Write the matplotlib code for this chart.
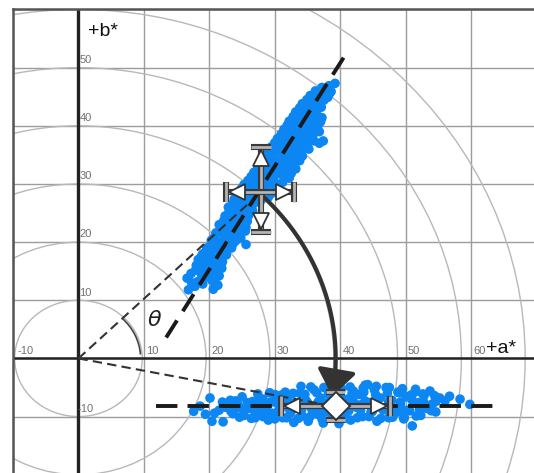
import numpy as np
import matplotlib.pyplot as plt
from matplotlib.patches import Ellipse, Arc, FancyArrowPatch
from matplotlib.path import Path

# scatter points (a*, b*)
diag_a = [16.8, 17.8, 20.6, 21.3,
          16.6, 18.2, 19.5, 21.5, 20.4,
          17.9, 19.2, 20.5, 21.8, 18.6,
          18.3, 19.6, 20.9, 22.0, 19.0,
          19.8, 21.0, 22.3, 20.4, 23.4,
          20.3, 21.6, 22.8, 24.0, 25.6,
          21.0, 22.2, 23.4, 24.6, 25.5,
          21.5, 22.8, 24.0, 25.2, 23.4,
          22.4, 23.6, 24.8, 26.0, 25.2,
          22.9, 24.2, 25.4, 26.5, 23.8,
          24.2, 25.5, 26.8, 27.9, 29.0,
          24.9, 26.2, 27.3, 28.7, 30.0,
          25.9, 27.2, 28.5, 29.8, 31.2, 32.2,
          26.8, 28.1, 29.4, 30.6, 31.8,
          27.6, 28.9, 30.2, 31.5, 32.8, 33.8,
          28.6, 29.9, 31.2, 32.5, 33.6,
          29.5, 30.8, 32.0, 33.4, 34.6, 36.8,
          30.4, 31.7, 33.0, 34.2, 35.4, 37.4,
          31.4, 32.7, 34.0, 35.3, 36.4,
          32.2, 33.5, 34.8, 36.0, 37.0,
          33.2, 34.4, 35.6, 36.6,
          34.2, 35.4, 36.6, 37.5,
          35.4, 36.6, 37.7, 38.6,
          37.2, 38.3, 39.2]
diag_b = [11.8, 12.4, 11.9, 12.6,
          13.8, 13.2, 14.0, 14.2, 13.4,
          15.2, 15.6, 15.1, 15.8, 16.4,
          17.0, 16.8, 17.2, 16.6, 18.0,
          18.4, 18.9, 18.2, 19.6, 19.0,
          20.3, 20.0, 20.6, 20.2, 19.6,
          21.6, 21.3, 21.8, 21.2, 21.9,
          23.0, 22.7, 23.2, 22.8, 24.0,
          24.5, 24.8, 24.3, 24.6, 25.6,
          26.0, 26.3, 26.8, 26.1, 27.4,
          28.0, 27.6, 27.8, 27.2, 27.7,
          29.2, 29.4, 29.0, 29.6, 28.9,
          30.6, 30.8, 30.4, 30.9, 30.3, 31.0,
          32.0, 32.3, 31.8, 32.4, 31.9,
          33.4, 33.8, 33.2, 33.7, 33.3, 34.0,
          35.0, 35.3, 34.8, 35.4, 35.0,
          36.4, 36.8, 36.2, 36.7, 36.3, 37.0,
          37.8, 38.2, 37.6, 38.3, 37.9, 37.4,
          39.4, 39.7, 39.2, 39.8, 39.3,
          40.8, 41.2, 40.6, 41.3, 40.7,
          42.4, 42.7, 42.2, 42.9,
          43.8, 44.1, 43.6, 44.4,
          45.2, 45.6, 45.0, 45.9,
          46.6, 46.9, 47.3]

# second pass of points between the rows above
diag2_a = [17.3, 19.0, 20.9,
           17.2, 18.8, 20.2, 21.2,
           18.0, 19.4, 20.8, 21.9,
           18.8, 20.1, 21.5, 22.6,
           20.9, 22.1, 23.6, 19.6,
           20.8, 22.3, 23.6, 24.8,
           21.8, 23.0, 24.3, 25.6,
           22.2, 23.4, 24.6, 25.8,
           23.0, 24.2, 25.5, 26.6,
           23.6, 24.8, 26.0, 27.2,
           24.6, 25.8, 27.0, 28.2, 29.4,
           25.3, 26.6, 27.9, 29.2, 30.5,
           26.4, 27.6, 28.8, 30.0, 31.3, 32.5,
           27.4, 28.5, 29.8, 31.0, 32.2, 33.2,
           28.2, 29.4, 30.7, 32.0, 33.2, 34.2,
           29.0, 30.3, 31.6, 32.9, 34.1, 35.2,
           30.0, 31.2, 32.5, 33.8, 35.0, 36.0,
           31.0, 32.2, 33.5, 34.8, 35.9, 36.8,
           31.9, 33.1, 34.4, 35.6, 36.6,
           32.8, 34.0, 35.2, 36.3, 37.2,
           33.8, 35.0, 36.1, 37.1,
           34.9, 36.0, 37.1, 38.1,
           36.2, 37.4, 38.4]
diag2_b = [13.0, 12.8, 13.0,
           14.6, 14.4, 14.7, 15.0,
           16.0, 15.9, 16.2, 15.5,
           17.6, 17.9, 17.6, 17.8,
           19.3, 19.5, 19.7, 19.0,
           20.9, 20.8, 20.9, 20.7,
           22.3, 22.2, 22.4, 22.5,
           23.7, 23.5, 23.8, 23.6,
           25.2, 25.4, 25.2, 25.4,
           26.6, 27.0, 26.8, 26.9,
           28.4, 28.5, 28.3, 28.4, 28.3,
           29.9, 30.0, 29.8, 30.1, 29.9,
           31.3, 31.4, 31.2, 31.5, 31.4, 31.8,
           32.8, 33.0, 32.6, 32.9, 32.7, 32.6,
           34.2, 34.4, 34.0, 34.3, 34.4, 34.8,
           35.7, 35.9, 35.6, 36.0, 35.6, 36.0,
           37.1, 37.4, 37.0, 37.3, 37.1, 37.4,
           38.6, 38.9, 38.5, 38.9, 38.6, 39.0,
           40.1, 40.3, 40.0, 40.4, 40.1,
           41.6, 41.9, 41.5, 41.8, 41.4,
           43.1, 43.3, 43.0, 43.2,
           44.5, 44.8, 44.4, 44.9,
           46.0, 46.2, 45.6]

flat_a = [17.6, 18.6, 20.1, 20.4, 22.1, 20.8, 19.4,
          22.5, 23.2, 23.6, 24.4, 25.0, 25.3, 26.0, 26.6, 27.0, 27.5,
          28.2, 28.6, 29.0, 29.5, 30.0, 30.2,
          30.8, 31.2, 31.6, 32.0, 32.4, 32.9, 33.3, 33.8, 34.2, 34.7,
          35.1, 35.6, 36.0, 36.5, 37.0, 37.4, 37.8, 38.3, 38.7, 39.2,
          39.8, 40.2, 40.7, 41.1, 41.6, 42.0, 42.5, 42.9, 43.4, 43.8,
          44.3, 44.7, 45.2, 45.6, 46.1, 46.5, 47.0, 47.4, 47.9, 48.3,
          48.8, 49.2, 49.7, 50.1, 50.6, 51.0, 51.4, 51.9, 52.3, 52.8,
          53.2, 53.7, 54.1, 54.6, 55.2, 56.7, 58.3, 59.8,
          31.0, 33.0, 35.0, 37.0, 39.0, 41.0, 43.0, 45.0, 47.0, 49.0,
          34.0, 44.2, 24.0, 26.5, 28.0]
flat_b = [-9.1, -8.2, -6.8, -10.8, -10.9, -9.4, -9.6,
          -8.4, -7.2, -9.5, -8.0, -6.6, -9.8, -8.6, -7.4, -10.2, -9.0,
          -7.0, -8.2, -10.6, -9.4, -6.2, -7.6,
          -8.8, -10.2, -5.8, -7.0, -9.4, -11.0, -8.0, -6.0, -9.9, -7.2,
          -10.8, -8.6, -5.4, -9.6, -6.8, -11.1, -8.0, -5.0, -10.2, -6.4,
          -11.2, -5.2, -9.6, -7.0, -10.6, -5.6, -8.4, -6.2, -10.0, -4.6,
          -7.6, -9.2, -5.4, -10.8, -6.8, -8.8, -5.0, -10.2, -7.2, -9.4,
          -5.8, -8.0, -10.4, -6.6, -9.0, -11.6, -5.8, -7.6, -9.8, -6.4,
          -8.6, -5.6, -7.8, -9.2, -6.8, -6.5, -7.0, -7.9,
          -7.8, -8.6, -7.6, -9.0, -8.4, -8.6, -8.0, -8.2, -8.6, -9.2,
          -4.8, -4.5, -8.6, -8.4, -8.8]

flat2_a = [27.4, 29.2, 31.0, 32.8, 34.6, 36.4, 38.2, 40.0, 41.8, 43.6,
           45.4, 47.2, 49.0, 50.8, 52.6, 54.4,
           22.0, 24.0, 25.8, 27.6, 29.4, 31.2, 33.0, 34.8, 36.6, 38.4,
           40.2, 42.0, 43.8, 45.6, 47.4, 49.2, 51.0, 52.8, 54.6, 56.0,
           21.5, 23.3, 25.1, 26.9, 28.7, 30.5, 32.3, 34.1, 35.9, 37.7,
           39.5, 41.3, 43.1, 44.9, 46.7, 48.5, 50.3, 52.1, 53.9,
           24.6, 26.4, 28.2, 30.0, 31.8, 33.6, 35.4, 37.2, 39.0, 40.8,
           42.6, 44.4, 46.2, 48.0, 49.8, 51.6,
           35.5, 37.5, 39.5, 41.5, 43.5, 45.5, 47.5, 49.5, 51.5]
flat2_b = [-6.1, -5.9, -6.3, -6.0, -6.2, -5.9, -6.1, -6.3, -6.0, -5.8,
           -6.2, -6.0, -5.9, -6.3, -6.1, -6.4,
           -7.5, -7.3, -7.6, -7.2, -7.5, -7.4, -7.7, -7.3, -7.5, -7.2,
           -7.6, -7.4, -7.3, -7.6, -7.4, -7.5, -7.2, -7.6, -7.4, -7.3,
           -8.9, -9.1, -8.8, -9.0, -8.7, -9.1, -8.9, -8.8, -9.0, -9.2,
           -8.8, -9.0, -8.9, -9.1, -8.8, -9.0, -8.9, -8.7, -9.0,
           -10.1, -10.3, -10.0, -10.4, -10.2, -10.3, -10.0, -10.4, -10.1, -10.3,
           -10.2, -10.0, -10.3, -10.1, -10.2, -9.9,
           -4.9, -5.0, -4.7, -4.9, -5.1, -4.8, -5.0, -5.2, -5.3]

centre1 = (27.9, 28.6)
centre2 = (39.3, -8.2)
a_ticks = [-10, 10, 20, 30, 40, 50, 60]
b_ticks = [50, 40, 30, 20, 10, -10, -20]
radii = [10, 20, 30, 40, 50, 60, 70]

fig = plt.figure(figsize=(5.34, 4.73), dpi=100)
ax = fig.add_axes([13 / 534, 0, 521 / 534, 463.5 / 473])
ax.set_xlim(-10, 69.6)
ax.set_ylim(-19.7, 60)

ax.set_xticks(range(-10, 70, 10))
ax.set_yticks(range(-10, 61, 10))
ax.grid(True, color='#9c9c9c', lw=1.0, zorder=0)
ax.tick_params(length=0, labelbottom=False, labelleft=False)
ax.set_axisbelow(True)
for s in ['right', 'bottom']:
    ax.spines[s].set_visible(False)
for s in ['left', 'top']:
    ax.spines[s].set_color('#555555')
    ax.spines[s].set_linewidth(1.8)

# chroma circles
for r in radii:
    ax.add_patch(Ellipse((0, 0), 2 * r * 0.975, 2 * r, fill=False,
                         ec='#b8b8b8', lw=1.0, zorder=1))

# main axes
ax.axvline(0, color='#222222', lw=2.4, zorder=2)
ax.axhline(0, color='#222222', lw=1.8, zorder=2)

for v in a_ticks:
    ax.annotate(str(v), (v, 0), xytext=(3 if v < 0 else 1.5, 2),
                textcoords='offset points', ha='left', va='bottom',
                fontsize=8, color='#707070', family='Liberation Sans')
for v in b_ticks:
    ax.annotate(str(v), (0, v), xytext=(-0.5 if v < 0 else 0.8, 2),
                textcoords='offset points', ha='left', va='bottom',
                fontsize=8, color='#707070', family='Liberation Sans')

ax.text(1.4, 55.5, '+b*', fontsize=14, family='Liberation Sans', color='#111111')
ax.text(62.2, 1.0, '+a*', fontsize=14, family='Liberation Sans', color='#111111')
ax.text(11.6, 6.6, r'$\theta$', fontsize=16, color='#222222', ha='center', va='center')

# data
blue = '#0c86f2'
ax.scatter(diag_a, diag_b, s=48, color=blue, edgecolors='none', zorder=3)
ax.scatter(diag2_a, diag2_b, s=48, color=blue, edgecolors='none', zorder=3)
ax.scatter(flat_a, flat_b, s=48, color=blue, edgecolors='none', zorder=3)
ax.scatter(flat2_a, flat2_b, s=48, color=blue, edgecolors='none', zorder=3)

# dashed guide lines
ax.plot([0, centre1[0]], [0, centre1[1]], color='#333333', lw=1.5,
        dashes=(4.5, 2.5), zorder=4)
ax.plot([0, 37.0], [0, -7.8], color='#333333', lw=1.5, dashes=(4.5, 2.5), zorder=4)
ax.plot([13.4, 41.4], [3.6, 53.3], color='#1a1a1a', lw=2.8, dashes=(5.2, 2.8), zorder=4)
ax.plot([11.9, 64.1], [centre2[1], centre2[1]], color='#1a1a1a', lw=2.8,
        dashes=(5.5, 2.6), zorder=4)

# hue angle arc
ax.add_patch(Arc((0, 0), 19.0, 19.4, theta1=4, theta2=46, color='#444444',
                 lw=1.2, zorder=4))

# hue rotation arrow
t = np.radians(np.linspace(45.0, -9.4, 60))
arc_path = Path(np.column_stack([39.3 * np.cos(t), 40 * np.sin(t)]))
ax.add_patch(FancyArrowPatch(path=arc_path,
                             arrowstyle='-|>,head_length=0.8,head_width=0.6',
                             mutation_scale=20, color='#333333', lw=3.0, zorder=5))


def bar(xs, ys):
    ax.plot(xs, ys, color='#3a3a3a', lw=4.4, solid_capstyle='butt', zorder=6)
    ax.plot(xs, ys, color='#b4b4b4', lw=2.0, solid_capstyle='butt', zorder=6)


def tri(x, y, m):
    ax.plot(x, y, marker=m, ms=12, mfc='white', mec='#333333', mew=1.3, zorder=7)


# spread cross at first centre
cx, cy = centre1
bar([cx, cx], [21.8, 36.3])
bar([22.6, 33.0], [cy, cy])
bar([26.4, 29.4], [36.3, 36.3])
bar([26.4, 29.4], [21.8, 21.8])
bar([22.6, 22.6], [26.9, 30.3])
bar([33.0, 33.0], [26.9, 30.3])
tri(cx, 34.4, '^')
tri(cx, 23.7, 'v')
tri(24.2, cy, '<')
tri(31.4, cy, '>')

# spread bar at second centre
cx, cy = centre2
bar([cx, cx], [-10.6, -5.8])
bar([31.0, 47.6], [cy, cy])
bar([31.0, 31.0], [-9.9, -6.5])
bar([47.6, 47.6], [-9.9, -6.5])
bar([37.8, 40.8], [-5.8, -5.8])
bar([37.8, 40.8], [-10.6, -10.6])
tri(32.7, cy, '<')
tri(45.9, cy, '>')
ax.plot(cx, cy, marker='D', ms=14, mfc='white', mec='#333333', mew=1.4, zorder=7)

fig.savefig('out.png', dpi=100)
